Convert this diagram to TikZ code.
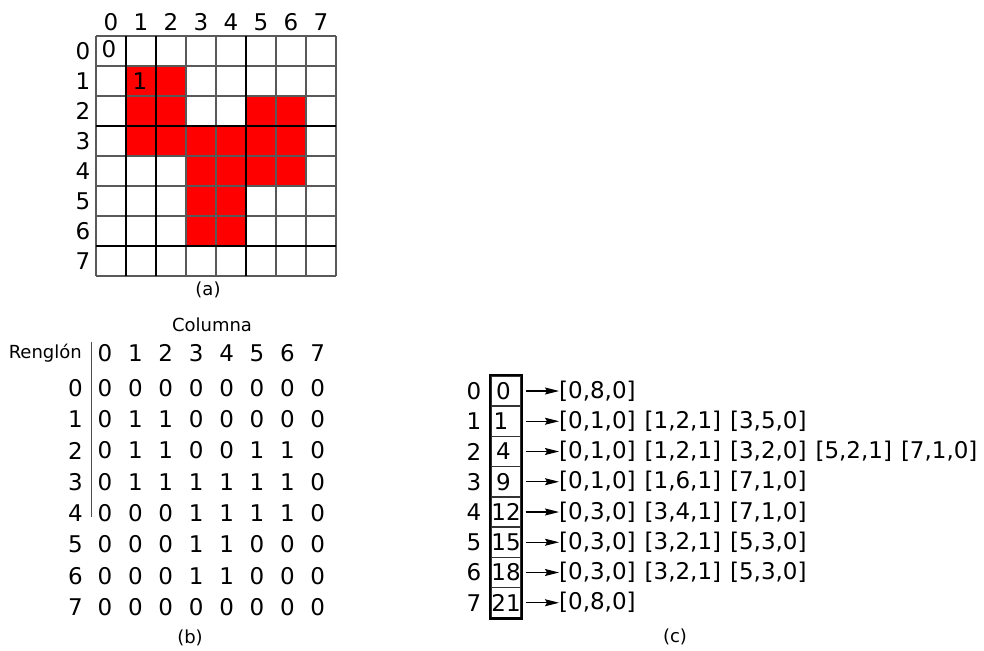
\documentclass[tikz,border=0pt]{standalone}
\usepackage{fontspec}
\setmainfont{DejaVu Sans}
\usetikzlibrary{arrows.meta}
\begin{document}
\begin{tikzpicture}[x=1pt,y=-1pt,
  big/.style={font=\fontsize{23}{27}\selectfont, inner sep=0pt},
  small/.style={font=\fontsize{18}{21}\selectfont, inner sep=0pt},
  thingrid/.style={draw=black!65, line width=1.3pt},
  thickgrid/.style={draw=black, line width=2pt},
  cellbox/.style={draw=black!80, line width=1.3pt, minimum width=30pt, minimum height=30.25pt, inner sep=0pt},
  ptr/.style={-{Stealth[length=14pt,width=7pt,inset=2pt]}, line width=1.1pt, shorten <=4pt}]
\useasboundingbox (0,0) rectangle (984,650);
% ---------- (a) grid ----------
\foreach \c/\r in {1/1,2/1,1/2,2/2,5/2,6/2,1/3,2/3,3/3,4/3,5/3,6/3,3/4,4/4,5/4,6/4,3/5,4/5,3/6,4/6}
  \fill[red] (96+30*\c,36+30*\r) rectangle ++(30,30);
\foreach \i in {0,...,8} {
  \draw[thingrid] (96+30*\i,36) -- (96+30*\i,276);
  \draw[thingrid] (96,36+30*\i) -- (336,36+30*\i);
}
\foreach \i in {1,2,5} \draw[thickgrid] (96+30*\i,36) -- (96+30*\i,276);
\foreach \i in {3,7} \draw[thickgrid] (96,36+30*\i) -- (336,36+30*\i);
\foreach \i in {0,...,7} {
  \node[big] (ch\i) at (111+30*\i,22) {\i};
  \node[big] (rh\i) at (83,51+30*\i) {\i};
}
\node[big] (c00) at (109,49) {0};
\node[big] (c11) at (140,81) {1};
\node[small] (la) at (208,290) {(a)};
% ---------- (b) table ----------
\node[small] (col) at (212,325) {Columna};
\node[small, anchor=east] (ren) at (82,353) {Renglón};
\foreach \j in {0,...,7} \node[big] (bh\j) at (105+30.4*\j,353) {\j};
\draw[line width=1pt, black!70] (91,342) -- (91,517);
\foreach \row [count=\i from 0] in {{0,0,0,0,0,0,0,0},{0,1,1,0,0,0,0,0},{0,1,1,0,0,1,1,0},{0,1,1,1,1,1,1,0},{0,0,0,1,1,1,1,0},{0,0,0,1,1,0,0,0},{0,0,0,1,1,0,0,0},{0,0,0,0,0,0,0,0}} {
  \node[big, anchor=east] (br\i) at (83,388+31.3*\i) {\i};
  \foreach \v [count=\j from 0] in \row
    \node[big] (b\i-\j) at (105+30.4*\j,388+31.3*\i) {\v};
}
\node[small] (lb) at (190,638) {(b)};
% ---------- (c) list ----------
\foreach \v/\vx/\t [count=\i from 0] in {0/503.5/{[0,8,0]},
  1/501/{[0,1,0]\hspace{9pt}[1,2,1]\hspace{9pt}[3,5,0]},
  4/503.5/{[0,1,0]\hspace{9pt}[1,2,1]\hspace{9pt}[3,2,0]\hspace{9pt}[5,2,1]\hspace{9pt}[7,1,0]},
  9/503.5/{[0,1,0]\hspace{9pt}[1,6,1]\hspace{9pt}[7,1,0]},
  12/506/{[0,3,0]\hspace{9pt}[3,4,1]\hspace{9pt}[7,1,0]},
  15/506/{[0,3,0]\hspace{9pt}[3,2,1]\hspace{9pt}[5,3,0]},
  18/506/{[0,3,0]\hspace{9pt}[3,2,1]\hspace{9pt}[5,3,0]},
  21/506/{[0,8,0]}} {
  \node[cellbox] (p\i) at (506,391+30.25*\i) {};
  \node[big] (v\i) at (\vx,391+30.25*\i) {\v};
  \node[big] (q\i) at (474,391+30.25*\i) {\i};
  \node[big, anchor=west] (t\i) at (559,391+30.25*\i) {\t};
  \draw[ptr] (p\i.east) -- (t\i.west);
}
\draw[line width=2.2pt] (p0.north west) rectangle (p7.south east);
\node[small] (lc) at (675,637) {(c)};
\end{tikzpicture}
\end{document}
